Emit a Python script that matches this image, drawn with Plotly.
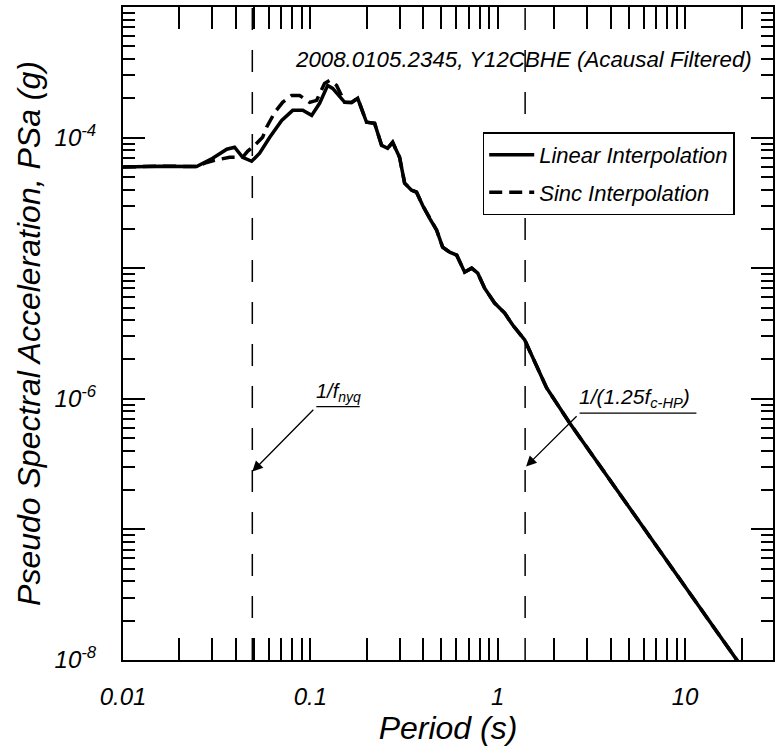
import plotly.graph_objects as go
import math

# ---- data ----
linear_period = [0.01, 0.0157, 0.0247, 0.0301, 0.0358, 0.0394, 0.0435, 0.0486, 0.0536, 0.0607,
                 0.0703, 0.0805, 0.091, 0.1016, 0.112, 0.1237, 0.1315, 0.1525, 0.166, 0.1788,
                 0.1995, 0.2203, 0.2399, 0.2583, 0.2748, 0.2992, 0.3184, 0.3467, 0.3687, 0.397,
                 0.433, 0.472, 0.508, 0.554, 0.604, 0.666, 0.726, 0.782, 0.851, 0.962,
                 1.089, 1.202, 1.393, 1.536, 1.824, 2.42, 6.24, 18.8, 30.0]
linear_psa = [5.96e-5, 6.04e-5, 6.0e-5, 6.95e-5, 8.15e-5, 8.44e-5, 7.07e-5, 6.59e-5, 7.59e-5, 1.005e-4,
              1.355e-4, 1.617e-4, 1.617e-4, 1.48e-4, 1.83e-4, 2.51e-4, 2.38e-4, 1.862e-4, 1.86e-4, 2.0e-4,
              1.31e-4, 1.285e-4, 8.73e-5, 8.28e-5, 9.2e-5, 7.07e-5, 4.48e-5, 3.96e-5, 3.82e-5, 3.03e-5,
              2.41e-5, 1.955e-5, 1.45e-5, 1.327e-5, 1.259e-5, 9.33e-6, 1.0e-5, 9.16e-6, 7.04e-6, 5.41e-6,
              4.53e-6, 3.67e-6, 2.82e-6, 2.05e-6, 1.21e-6, 6.53e-7, 9.44e-8, 1.01e-8, 3.9e-9]

sinc_period_short = [0.01, 0.0157, 0.0247, 0.02735, 0.0308, 0.0371, 0.0435, 0.0462, 0.0504, 0.0556,
                     0.0584, 0.0645, 0.0711, 0.0794, 0.0877, 0.0991, 0.108, 0.119, 0.1268, 0.138]
sinc_psa_short = [5.96e-5, 6.04e-5, 6.0e-5, 6.37e-5, 6.7e-5, 7.07e-5, 7.07e-5, 7.85e-5, 8.73e-5, 1.005e-4,
                  1.2e-4, 1.56e-4, 1.862e-4, 2.1e-4, 2.1e-4, 1.86e-4, 1.93e-4, 2.6e-4, 2.74e-4, 2.51e-4]

# sinc curve merges with the linear one beyond ~0.15 s
merge_idx = next(i for i, p in enumerate(linear_period) if p >= 0.1525)
sinc_period = sinc_period_short + linear_period[merge_idx:]
sinc_psa = sinc_psa_short + linear_psa[merge_idx:]

x_tick_vals = [0.01, 0.1, 1, 10]
x_tick_text = ["0.01", "0.1", "1", "10"]
y_label_vals = [1e-8, 1e-6, 1e-4]
y_label_text = ["10<sup>-8</sup>", "10<sup>-6</sup>", "10<sup>-4</sup>"]
y_major_vals = [1e-8, 1e-7, 1e-6, 1e-5, 1e-4, 1e-3]

t_nyq = 0.049        # 1/f_nyq
t_hp = 1.40          # 1/(1.25 f_c-HP)

FONT = "Liberation Sans, Arial, sans-serif"

x_minor = [m * 10 ** k for k in range(-2, 2) for m in range(2, 10)]
y_minor = [m * 10 ** k for k in range(-8, -3) for m in range(2, 10)]

fig = go.Figure()
fig.add_trace(go.Scatter(x=linear_period, y=linear_psa, mode="lines",
                         name="Linear Interpolation", legendgroup="a",
                         line=dict(color="black", width=3.5)))
fig.add_trace(go.Scatter(x=sinc_period, y=sinc_psa, mode="lines",
                         name="Sinc Interpolation", legendgroup="b",
                         line=dict(color="black", width=3.5, dash="13px,7px")))

for t in (t_nyq, t_hp):
    fig.add_shape(type="line", xref="x", yref="paper", x0=t, x1=t, y0=0, y1=1,
                  line=dict(color="black", width=1.5, dash="22px,20px"), layer="below")

lg = math.log10
# annotation: 1/f_nyq
nyq_tail = (0.1076, 8.7e-7)
nyq_head_y = 2.77e-7
fig.add_shape(type="line", xref="x", yref="y", x0=nyq_tail[0], x1=0.1833,
              y0=nyq_tail[1], y1=nyq_tail[1], line=dict(color="black", width=1.3))
fig.add_annotation(x=lg(t_nyq), y=lg(nyq_head_y), ax=lg(nyq_tail[0]), ay=lg(nyq_tail[1]),
                   xref="x", yref="y", axref="x", ayref="y", text=" ", showarrow=True,
                   arrowhead=2, arrowsize=1.6, arrowwidth=1.3, arrowcolor="black")
fig.add_annotation(x=lg(nyq_tail[0]) - 0.012, y=lg(nyq_tail[1]), xref="x", yref="y",
                   text="1/f<sub>nyq</sub>", showarrow=False, xanchor="left", yanchor="bottom",
                   font=dict(family=FONT, size=20, color="black", style="italic"))

# annotation: 1/(1.25 f_c-HP)
hp_tail = (2.735, 7.76e-7)
hp_head_y = 3.03e-7
fig.add_shape(type="line", xref="x", yref="y", x0=hp_tail[0], x1=11.49,
              y0=hp_tail[1], y1=hp_tail[1], line=dict(color="black", width=1.3))
fig.add_annotation(x=lg(t_hp) + 0.005, y=lg(hp_head_y), ax=lg(hp_tail[0]), ay=lg(hp_tail[1]),
                   xref="x", yref="y", axref="x", ayref="y", text=" ", showarrow=True,
                   arrowhead=2, arrowsize=1.6, arrowwidth=1.3, arrowcolor="black")
fig.add_annotation(x=lg(hp_tail[0]) - 0.015, y=lg(hp_tail[1]), xref="x", yref="y",
                   text="1/(1.25f<sub>c-HP</sub>)", showarrow=False, xanchor="left", yanchor="bottom",
                   font=dict(family=FONT, size=21, color="black", style="italic"))

# title text inside plot
fig.add_annotation(x=0.971, y=0.92, xref="paper", yref="paper",
                   text="2008.0105.2345, Y12CBHE (Acausal Filtered)", showarrow=False,
                   xanchor="right", yanchor="middle",
                   font=dict(family=FONT, size=22.3, color="black", style="italic"))

axis_common = dict(showline=True, linecolor="black", linewidth=2, mirror="allticks",
                   ticks="inside", ticklen=22, tickwidth=1.5, tickcolor="black",
                   showgrid=False, zeroline=False,
                   tickfont=dict(family=FONT, size=24, color="black", style="italic"))

fig.update_xaxes(type="log", range=[-2, 1.469], tickmode="array",
                 tickvals=x_tick_vals, ticktext=x_tick_text, ticklabelstandoff=14,
                 minor=dict(ticks="inside", ticklen=12, tickwidth=1.5, tickcolor="black",
                            tickmode="array", tickvals=x_minor, showgrid=False),
                 title=dict(text="Period (s)", standoff=6,
                            font=dict(family=FONT, size=32, color="black", style="italic")),
                 **axis_common)
fig.update_yaxes(type="log", range=[-8, -3], tickmode="array",
                 tickvals=y_label_vals, ticktext=y_label_text, ticklabelstandoff=20,
                 minor=dict(ticks="inside", ticklen=12, tickwidth=1.5, tickcolor="black",
                            tickmode="array", tickvals=y_minor, showgrid=False),
                 title=dict(text="Pseudo Spectral Acceleration, PSa (g)", standoff=4,
                            font=dict(family=FONT, size=32, color="black", style="italic")),
                 **axis_common)

# unlabeled long decade ticks on a second (overlaying) y axis
fig.update_layout(yaxis2=dict(type="log", range=[-8, -3], overlaying="y", side="left",
                              tickmode="array", tickvals=y_major_vals, ticktext=[""] * 6,
                              showticklabels=False, ticks="inside", ticklen=22, tickwidth=1.5,
                              tickcolor="black", mirror="allticks", showline=False,
                              showgrid=False, zeroline=False))
fig.add_trace(go.Scatter(x=[linear_period[0]], y=[linear_psa[0]], yaxis="y2", mode="lines",
                         showlegend=False, hoverinfo="skip", line=dict(color="black", width=3.5)))

fig.update_layout(
    width=777, height=755,
    margin=dict(l=123, r=4, t=7, b=95, autoexpand=False),
    plot_bgcolor="white", paper_bgcolor="white",
    showlegend=True,
    legend=dict(x=0.5534, y=0.808, xanchor="left", yanchor="top",
                bgcolor="white", bordercolor="black", borderwidth=1.5,
                tracegroupgap=6, itemwidth=45,
                font=dict(family=FONT, size=22, color="black", style="italic")),
)

fig.write_html("out.html")
